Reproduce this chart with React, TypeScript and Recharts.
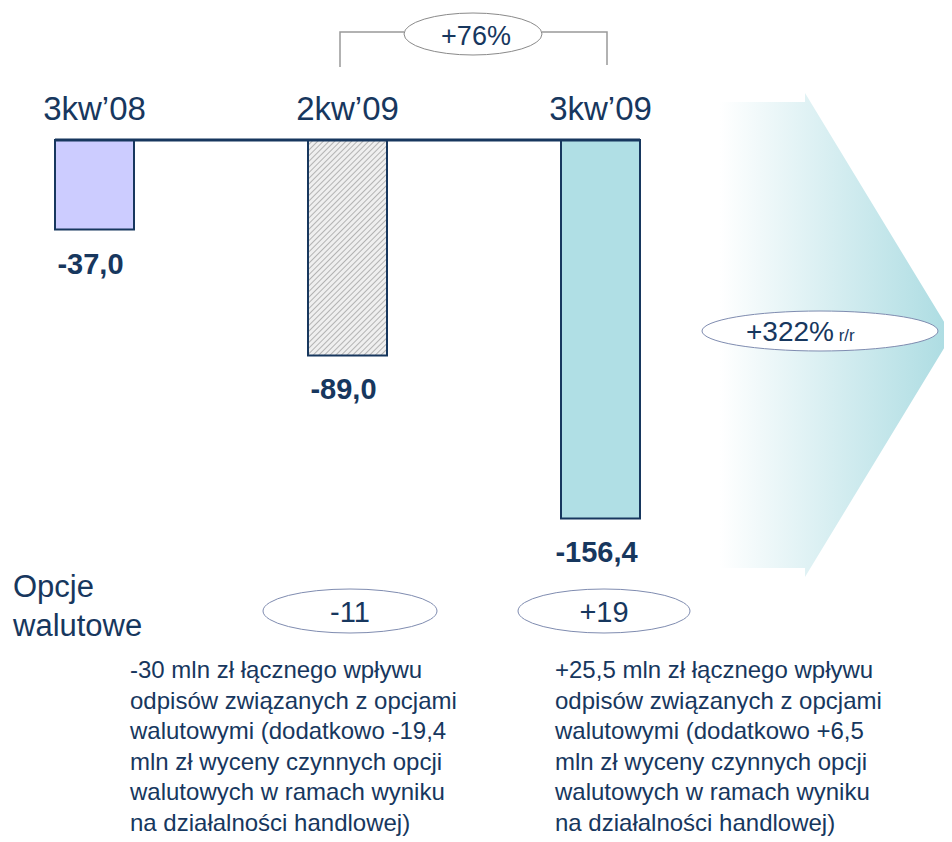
import { BarChart, Bar, XAxis, YAxis, Cell, LabelList } from "recharts";

// dane z wykresu (mln zł)
const quarters = ["3kw’08", "2kw’09", "3kw’09"];
const results = [-37.0, -89.0, -156.4];
const fxOptions = ["-11", "+19"];
const changeQoQ = "+76%";
const changeYoY = "+322%";

const NAVY = "#17375e";
const FONT = "'Liberation Sans', Arial, sans-serif";
const barFills = ["#ccccff", "url(#hatch)", "#b0dfe5"];

const noteLeft = [
  "-30 mln zł łącznego wpływu",
  "odpisów związanych z opcjami",
  "walutowymi (dodatkowo -19,4",
  "mln zł wyceny czynnych opcji",
  "walutowych w ramach wyniku",
  "na działalności handlowej)",
];
const noteRight = [
  "+25,5 mln zł łącznego wpływu",
  "odpisów związanych z opcjami",
  "walutowymi (dodatkowo +6,5",
  "mln zł wyceny czynnych opcji",
  "walutowych w ramach wyniku",
  "na działalności handlowej)",
];

const data = quarters.map((q, i) => ({ name: q, value: results[i] }));

const fmt = (v: number) => v.toFixed(1).replace(".", ",");

// etykieta pod końcem słupka
const ValueLabel = (props: any) => {
  const x = Number(props.x);
  const y = Number(props.y);
  const w = Number(props.width);
  const h = Number(props.height);
  const bottom = Math.max(y, y + h);
  return (
    <text
      x={x + w / 2 - 4}
      y={bottom + 44}
      textAnchor="middle"
      fill={NAVY}
      fontSize={29}
      fontWeight="bold"
      fontFamily={FONT}
    >
      {fmt(Number(props.value))}
    </text>
  );
};

export default function App() {
  return (
    <div
      style={{
        position: "relative",
        width: 952,
        height: 842,
        marginLeft: -8,
        marginTop: -8,
        fontFamily: FONT,
        background: "#fff",
      }}
    >
      {/* strzałka w tle */}
      <svg
        width={952}
        height={842}
        style={{ position: "absolute", left: 0, top: 0 }}
      >
        <defs>
          <linearGradient
            id="arrowGrad"
            gradientUnits="userSpaceOnUse"
            x1={720}
            y1={0}
            x2={950}
            y2={0}
          >
            <stop offset="0%" stopColor="#ffffff" />
            <stop offset="100%" stopColor="#acdce2" />
          </linearGradient>
        </defs>
        <polygon
          points="700,102 805,102 805,93 952,335 805,577 805,568 700,568"
          fill="url(#arrowGrad)"
        />
      </svg>

      <div style={{ position: "absolute", left: 0, top: 0 }}>
        <BarChart
          width={952}
          height={842}
          data={data}
          margin={{ top: 80, left: 55, right: 312, bottom: 218 }}
        >
          <defs>
            <pattern
              id="hatch"
              width={4}
              height={4}
              patternUnits="userSpaceOnUse"
              patternTransform="rotate(45)"
            >
              <rect width={4} height={4} fill="#efefef" />
              <line x1={0} y1={0} x2={0} y2={4} stroke="#b3b3b3" strokeWidth={2} />
            </pattern>
          </defs>
          <XAxis
            dataKey="name"
            orientation="top"
            height={60}
            padding={{ left: -87, right: -87 }}
            axisLine={{ stroke: NAVY, strokeWidth: 3 }}
            tickLine={false}
            tickMargin={14}
            interval={0}
            tick={{ fill: NAVY, fontSize: 33, fontFamily: FONT }}
          />
          <YAxis hide domain={[-200, 0]} />
          <Bar
            dataKey="value"
            barSize={79}
            stroke={NAVY}
            strokeWidth={2}
            isAnimationActive={false}
          >
            {data.map((d, i) => (
              <Cell key={d.name} fill={barFills[i]} />
            ))}
            <LabelList dataKey="value" content={ValueLabel} />
          </Bar>
        </BarChart>
      </div>

      {/* adnotacje */}
      <svg
        width={952}
        height={842}
        style={{ position: "absolute", left: 0, top: 0, pointerEvents: "none" }}
        fontFamily={FONT}
      >
        {/* klamra +76% */}
        <polyline
          points="340,67 340,32 404,32"
          fill="none"
          stroke="#999"
          strokeWidth={1.5}
        />
        <polyline
          points="542,32 607,32 607,65"
          fill="none"
          stroke="#999"
          strokeWidth={1.5}
        />
        <ellipse cx={473} cy={34} rx={69} ry={21} fill="#fff" stroke="#8a8a8a" strokeWidth={1} />
        <text x={476} y={45} textAnchor="middle" fontSize={27} fill={NAVY}>
          {changeQoQ}
        </text>

        {/* r/r */}
        <ellipse cx={820} cy={331} rx={118} ry={20} fill="#fff" stroke="#7f8cb0" strokeWidth={1} />
        <text x={746} y={341} fill={NAVY}>
          <tspan fontSize={28}>{changeYoY}</tspan>
          <tspan fontSize={17}> r/r</tspan>
        </text>

        {/* opcje walutowe */}
        <text x={13} y={597} fontSize={31} fill={NAVY}>
          Opcje
        </text>
        <text x={13} y={636} fontSize={31} fill={NAVY}>
          walutowe
        </text>
        <ellipse cx={350} cy={611} rx={87} ry={22} fill="#fff" stroke="#7f8cb0" strokeWidth={1} />
        <text x={350} y={622} textAnchor="middle" fontSize={29} fill={NAVY}>
          {fxOptions[0]}
        </text>
        <ellipse cx={604} cy={611} rx={86} ry={22} fill="#fff" stroke="#7f8cb0" strokeWidth={1} />
        <text x={604} y={622} textAnchor="middle" fontSize={29} fill={NAVY}>
          {fxOptions[1]}
        </text>

        {noteLeft.map((t, i) => (
          <text key={"l" + i} x={130} y={678 + i * 30.6} fontSize={24} fill={NAVY}>
            {t}
          </text>
        ))}
        {noteRight.map((t, i) => (
          <text key={"r" + i} x={555} y={678 + i * 30.6} fontSize={24} fill={NAVY}>
            {t}
          </text>
        ))}
      </svg>
    </div>
  );
}
